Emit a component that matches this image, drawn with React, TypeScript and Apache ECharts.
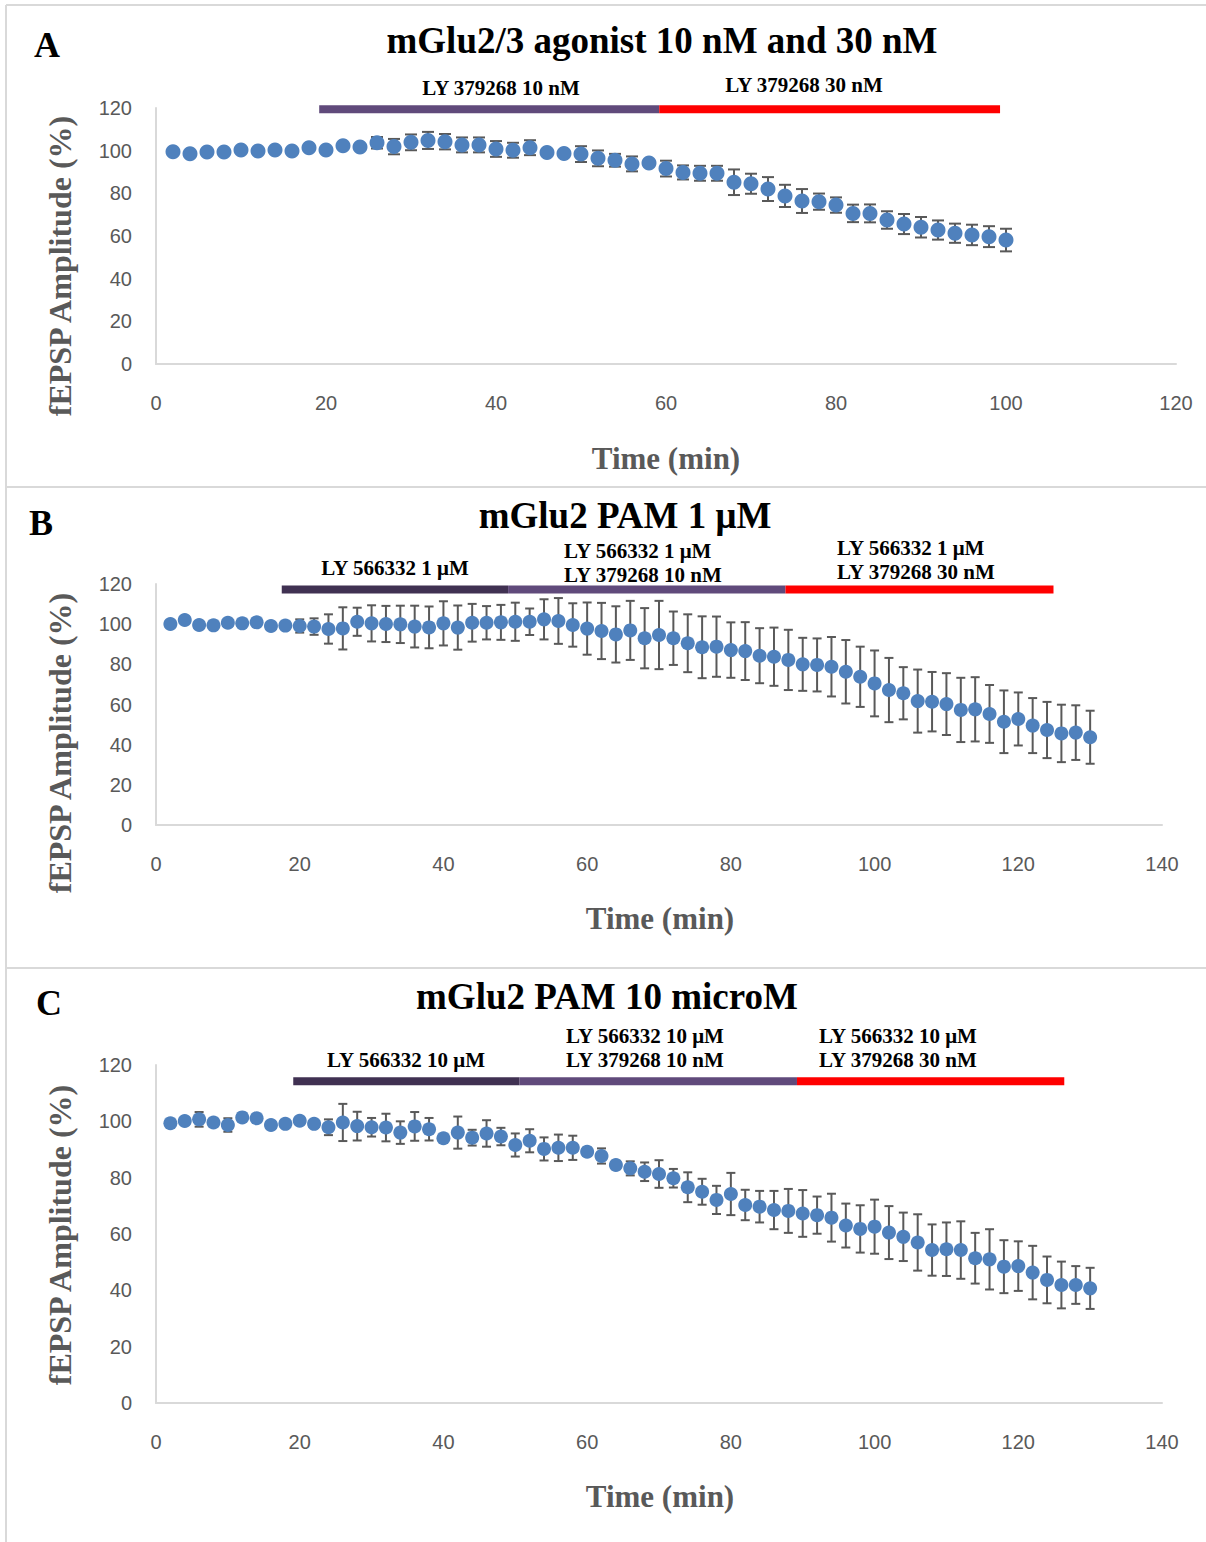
import React, { useEffect, useRef } from "react";
import * as echarts from "echarts";

// ---------- DATA ----------
const TIME_A = [2, 4, 6, 8, 10, 12, 14, 16, 18, 20, 22, 24, 26, 28, 30, 32, 34, 36, 38, 40, 42, 44, 46, 48, 50,
  52, 54, 56, 58, 60, 62, 64, 66, 68, 70, 72, 74, 76, 78, 80, 82, 84, 86, 88, 90, 92, 94, 96, 98, 100];
const TIME_BC = [2, 4, 6, 8, 10, 12, 14, 16, 18, 20, 22, 24, 26, 28, 30, 32, 34, 36, 38, 40, 42, 44, 46, 48, 50,
  52, 54, 56, 58, 60, 62, 64, 66, 68, 70, 72, 74, 76, 78, 80, 82, 84, 86, 88, 90, 92, 94, 96, 98, 100,
  102, 104, 106, 108, 110, 112, 114, 116, 118, 120, 122, 124, 126, 128, 130];

const AMP_A = [99.5, 98.6, 99.4, 99.4, 100.3, 99.8, 100.3, 99.8, 101.4, 100.3, 102.3, 101.7, 103.7, 101.9, 103.9,
  104.8, 104.2, 102.7, 102.7, 100.8, 100.2, 101.4, 99.1, 98.7, 98.4, 96.4, 95.5, 93.8, 94.2, 91.6, 89.8, 89.4, 89.4,
  85.2, 84.5, 82.0, 78.8, 76.4, 76.1, 74.5, 70.6, 70.6, 67.5, 65.6, 64.1, 62.8, 61.3, 60.5, 59.7, 58.1];
const SEM_A = [1.0, 1.0, 1.0, 1.0, 1.0, 1.0, 1.2, 1.2, 1.2, 1.2, 1.2, 1.2, 2.7, 3.6, 3.7, 4.0, 3.6, 3.5, 3.5, 3.7,
  3.5, 3.5, 1.5, 1.5, 3.7, 3.7, 3.0, 3.5, 1.5, 3.7, 3.3, 3.5, 3.5, 6.0, 4.7, 5.6, 5.2, 5.6, 3.8, 3.6, 4.1, 4.2, 4.1,
  4.7, 4.8, 4.5, 4.5, 4.8, 4.9, 5.3];

const AMP_B = [100.1, 102.1, 99.6, 99.4, 100.7, 100.4, 100.9, 99.1, 99.3, 99.1,
  98.8, 97.6, 97.9, 101.2, 100.4, 100.1, 99.9, 98.8, 98.4, 100.4,
  98.3, 100.7, 100.7, 100.9, 101.2, 101.2, 102.4, 101.6, 99.6, 97.8,
  96.6, 94.9, 96.9, 93.0, 94.6, 93.0, 90.5, 88.5, 88.8, 87.1,
  86.6, 84.3, 83.8, 82.2, 80.0, 79.7, 78.8, 76.3, 73.8, 70.5,
  67.2, 65.6, 61.7, 61.4, 60.2, 57.3, 57.6, 55.3, 51.4, 52.8,
  49.5, 47.3, 45.6, 46.0, 43.7];
const SEM_B = [1.0, 1.0, 1.0, 1.0, 1.0, 1.0, 1.0, 1.0, 1.0, 3.3,
  4.1, 7.3, 10.5, 7.0, 9.0, 9.0, 9.3, 10.4, 10.4, 11.0,
  11.0, 9.4, 8.3, 8.7, 9.5, 6.6, 10.0, 11.4, 10.8, 13.0,
  14.0, 14.0, 14.7, 15.0, 17.0, 13.3, 14.4, 15.4, 15.0, 13.8,
  14.4, 13.7, 14.5, 15.0, 13.2, 13.2, 14.8, 15.8, 15.0, 16.4,
  16.0, 13.0, 15.7, 14.8, 15.4, 16.0, 16.0, 14.4, 15.6, 13.2,
  13.7, 14.0, 14.3, 13.6, 13.2];

const AMP_C = [99.3, 100.1, 100.7, 99.6, 98.7, 101.4, 101.1, 98.7, 99.1, 100.2,
  99.1, 97.9, 99.6, 98.3, 97.9, 97.8, 96.0, 98.2, 97.2, 94.0,
  96.0, 94.2, 95.7, 94.6, 91.6, 93.1, 90.2, 90.6, 90.6, 89.2,
  87.7, 84.5, 83.3, 82.1, 81.3, 79.8, 76.6, 75.0, 72.1, 74.2,
  70.3, 69.7, 68.5, 68.2, 67.3, 66.7, 65.8, 63.0, 61.8, 62.6,
  60.5, 59.0, 57.0, 54.3, 54.6, 54.3, 51.4, 51.0, 48.4, 48.6,
  46.3, 43.7, 41.9, 41.9, 40.7];
const SEM_C = [1.0, 1.0, 2.6, 1.0, 2.4, 1.0, 1.0, 1.0, 1.0, 1.0,
  1.0, 2.8, 6.6, 5.1, 3.3, 4.9, 4.0, 5.1, 4.0, 1.5,
  5.7, 2.8, 4.7, 3.1, 4.1, 4.1, 4.1, 4.7, 4.3, 1.5,
  2.7, 1.5, 2.5, 3.3, 4.9, 3.3, 5.3, 4.6, 5.0, 7.5,
  5.4, 5.6, 6.8, 7.8, 8.3, 6.6, 8.5, 7.8, 8.4, 9.6,
  9.4, 8.6, 10.0, 9.1, 9.5, 10.2, 9.0, 10.7, 9.4, 8.8,
  9.5, 8.3, 8.3, 6.7, 7.3];

// drug application periods (min)
const DRUG_A_START = [19.2, 59.2];
const DRUG_A_END = [59.2, 99.3];
const DRUG_B_START = [17.5, 49.0, 87.6];
const DRUG_B_END = [49.0, 87.6, 124.9];
const DRUG_C_START = [19.1, 50.6, 89.2];
const DRUG_C_END = [50.6, 89.2, 126.4];

const DRUG_A_LABELS = ["LY 379268 10 nM", "LY 379268 30 nM"];
const DRUG_B_LABELS = ["LY 566332 1 μM", "LY 566332 1 μM\nLY 379268 10 nM", "LY 566332 1 μM\nLY 379268 30 nM"];
const DRUG_C_LABELS = ["LY 566332 10 μM", "LY 566332 10 μM\nLY 379268 10 nM", "LY 566332 10 μM\nLY 379268 30 nM"];

const TITLES = ["mGlu2/3 agonist 10 nM and 30 nM", "mGlu2 PAM 1 μM", "mGlu2 PAM 10 microM"];
const LETTERS = ["A", "B", "C"];
const Y_TITLE = "fEPSP Amplitude (%)";
const X_TITLE = "Time (min)";
const X_MAX = [120, 140, 140];
const Y_MAX = 120;
const TICK_STEP = 20;

// ---------- STYLE / LAYOUT ----------
const DARK_PURPLE = "#403152";
const PURPLE = "#604A7B";
const RED = "#FF0000";
const MARKER = "#4F81BD";
const ERR = "#595959";
const AXIS_LINE = "#D9D9D9";
const GRAY_TEXT = "#595959";
const SERIF = '"Liberation Serif", "Times New Roman", serif';
const SANS = '"Liberation Sans", Arial, sans-serif';

const PANELS = [
  {
    time: TIME_A, amp: AMP_A, sem: SEM_A, start: DRUG_A_START, end: DRUG_A_END, labels: DRUG_A_LABELS,
    colors: [PURPLE, RED],
    grid: { left: 156, top: 108, width: 1020, height: 256 },
    barY: 119.4, barH: 8, marker: 15, cap: 12,
    title: [662, 40], letter: [47, 45], ytitle: [60, 266], xtitle: [666, 458],
    labelPos: [[501, 88, "center"], [804, 85, "center"]],
  },
  {
    time: TIME_BC, amp: AMP_B, sem: SEM_B, start: DRUG_B_START, end: DRUG_B_END, labels: DRUG_B_LABELS,
    colors: [DARK_PURPLE, PURPLE, RED],
    grid: { left: 156, top: 584, width: 1006, height: 241 },
    barY: 117.3, barH: 8, marker: 14, cap: 9,
    title: [625, 515], letter: [41, 523], ytitle: [60, 743], xtitle: [660, 918],
    labelPos: [[395, 568, "center"], [564, 563, "left"], [837, 560, "left"]],
  },
  {
    time: TIME_BC, amp: AMP_C, sem: SEM_C, start: DRUG_C_START, end: DRUG_C_END, labels: DRUG_C_LABELS,
    colors: [DARK_PURPLE, PURPLE, RED],
    grid: { left: 156, top: 1065, width: 1006, height: 338 },
    barY: 114.2, barH: 8, marker: 14, cap: 9,
    title: [607, 996], letter: [49, 1003], ytitle: [60, 1235], xtitle: [660, 1496],
    labelPos: [[406, 1060, "center"], [566, 1048, "left"], [819, 1048, "left"]],
  },
];

function buildOption() {
  const grids: any[] = [];
  const xAxes: any[] = [];
  const yAxes: any[] = [];
  const series: any[] = [];
  const graphics: any[] = [];

  PANELS.forEach((p, i) => {
    grids.push({ ...p.grid, containLabel: false });
    xAxes.push({
      type: "value", gridIndex: i, min: 0, max: X_MAX[i], interval: TICK_STEP,
      axisLine: { show: true, lineStyle: { color: AXIS_LINE, width: 2 } },
      axisTick: { show: false }, splitLine: { show: false },
      axisLabel: { color: GRAY_TEXT, fontSize: 20, fontFamily: SANS, margin: 29 },
    });
    yAxes.push({
      type: "value", gridIndex: i, min: 0, max: Y_MAX, interval: TICK_STEP,
      axisLine: { show: true, lineStyle: { color: AXIS_LINE, width: 2 } },
      axisTick: { show: false }, splitLine: { show: false },
      axisLabel: { color: GRAY_TEXT, fontSize: 20, fontFamily: SANS, margin: 24 },
    });

    // drug application bars
    const cap = p.cap;
    const barY = p.barY;
    const barH = p.barH;
    const colors = p.colors;
    series.push({
      type: "custom", xAxisIndex: i, yAxisIndex: i, silent: true, z: 2,
      data: p.start.map((s, j) => [s, p.end[j], j]),
      encode: { x: [0, 1] },
      renderItem: (params: any, api: any) => {
        const a = api.coord([api.value(0), barY]);
        const b = api.coord([api.value(1), barY]);
        return {
          type: "rect",
          shape: { x: a[0], y: a[1] - barH / 2, width: b[0] - a[0], height: barH },
          style: { fill: colors[api.value(2)] },
        };
      },
    });

    // error bars
    series.push({
      type: "custom", xAxisIndex: i, yAxisIndex: i, silent: true, z: 3,
      data: p.time.map((t, j) => [t, p.amp[j], p.sem[j]]),
      encode: { x: 0, y: 1 },
      renderItem: (params: any, api: any) => {
        const t = api.value(0), v = api.value(1), e = api.value(2);
        const top = api.coord([t, v + e]);
        const bot = api.coord([t, v - e]);
        const st = { stroke: ERR, lineWidth: 2 };
        return {
          type: "group",
          children: [
            { type: "line", shape: { x1: top[0], y1: top[1], x2: bot[0], y2: bot[1] }, style: st },
            { type: "line", shape: { x1: top[0] - cap / 2, y1: top[1], x2: top[0] + cap / 2, y2: top[1] }, style: st },
            { type: "line", shape: { x1: bot[0] - cap / 2, y1: bot[1], x2: bot[0] + cap / 2, y2: bot[1] }, style: st },
          ],
        };
      },
    });

    // points
    series.push({
      type: "scatter", xAxisIndex: i, yAxisIndex: i, z: 4,
      symbol: "circle", symbolSize: p.marker,
      itemStyle: { color: MARKER, opacity: 1 },
      data: p.time.map((t, j) => [t, p.amp[j]]),
    });

    // texts
    graphics.push({
      type: "text", x: p.title[0], y: p.title[1],
      style: { text: TITLES[i], fontFamily: SERIF, fontWeight: "bold", fontSize: 37, fill: "#000", align: "center", verticalAlign: "middle" },
    });
    graphics.push({
      type: "text", x: p.letter[0], y: p.letter[1],
      style: { text: LETTERS[i], fontFamily: SERIF, fontWeight: "bold", fontSize: 36, fill: "#000", align: "center", verticalAlign: "middle" },
    });
    graphics.push({
      type: "text", x: p.ytitle[0], y: p.ytitle[1], rotation: Math.PI / 2,
      style: { text: Y_TITLE, fontFamily: SERIF, fontWeight: "bold", fontSize: 32, fill: GRAY_TEXT, align: "center", verticalAlign: "middle" },
    });
    graphics.push({
      type: "text", x: p.xtitle[0], y: p.xtitle[1],
      style: { text: X_TITLE, fontFamily: SERIF, fontWeight: "bold", fontSize: 31, fill: GRAY_TEXT, align: "center", verticalAlign: "middle" },
    });
    p.labels.forEach((lab, j) => {
      const lp = p.labelPos[j];
      graphics.push({
        type: "text", x: lp[0], y: lp[1],
        style: { text: lab, fontFamily: SERIF, fontWeight: "bold", fontSize: 21, lineHeight: 24, fill: "#000", align: lp[2], verticalAlign: "middle" },
      });
    });
  });

  // panel frame lines
  const frame = { stroke: AXIS_LINE, lineWidth: 2 };
  [5, 487, 968].forEach((y) => {
    graphics.push({ type: "line", shape: { x1: 6, y1: y, x2: 1206, y2: y }, style: frame, silent: true });
  });
  graphics.push({ type: "line", shape: { x1: 6, y1: 5, x2: 6, y2: 1542 }, style: frame, silent: true });

  return {
    animation: false,
    backgroundColor: "#fff",
    grid: grids,
    xAxis: xAxes,
    yAxis: yAxes,
    series,
    graphic: graphics,
  };
}

export default function App() {
  const ref = useRef<HTMLDivElement>(null);
  useEffect(() => {
    document.body.style.margin = "0";
    if (!ref.current) return;
    const chart = echarts.init(ref.current, undefined, { renderer: "svg" });
    chart.setOption(buildOption() as any);
    return () => chart.dispose();
  }, []);
  return <div ref={ref} style={{ width: 1206, height: 1542 }} />;
}
